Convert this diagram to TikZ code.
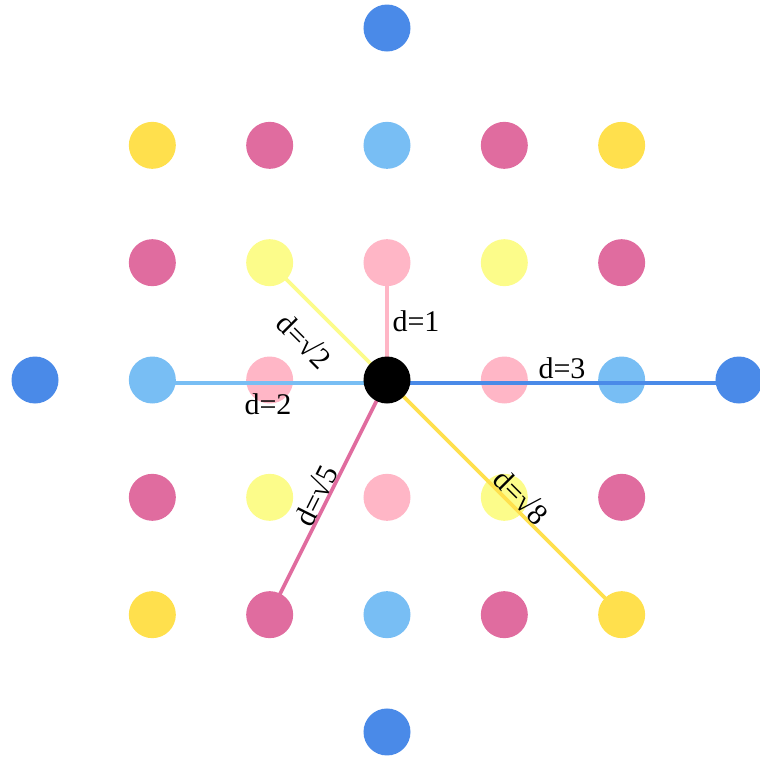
\documentclass[tikz,border=0pt]{standalone}
\usepackage{fontspec}
\setmainfont{Liberation Serif}
\definecolor{cOne}{HTML}{FFB6C6}
\definecolor{cTwo}{HTML}{FCFC8A}
\definecolor{cFour}{HTML}{78BEF4}
\definecolor{cFive}{HTML}{E06C9F}
\definecolor{cEight}{HTML}{FFE04D}
\definecolor{cNine}{HTML}{4A8AE8}
\pgfdeclarelayer{dots}
\pgfdeclarelayer{links}
\pgfsetlayers{dots,links,main}
\begin{document}
\begin{tikzpicture}[x=1pt,y=1pt,
  dot/.style={circle,inner sep=0pt,minimum size=47pt,fill=#1},
  link/.style={line width=3.7pt,draw=#1},
  lbl/.style={font=\fontsize{30}{34}\selectfont,inner sep=1pt}]
\def\s{117.33}
\useasboundingbox (-387,-378) rectangle (373,380);
\begin{pgfonlayer}{dots}
  % lattice points, coloured by squared distance from the origin
  \foreach \i in {-2,...,2} {
    \foreach \j in {-2,...,2} {
      \pgfmathtruncatemacro{\dd}{\i*\i+\j*\j}
      \ifnum\dd>0
        \ifcase\dd\or\def\cc{cOne}\or\def\cc{cTwo}\or\or\def\cc{cFour}\or\def\cc{cFive}\or\or\or\def\cc{cEight}\fi
        \node[dot=\cc] (p\i\j) at (\i*\s,\j*\s) {};
      \fi
    }
  }
  \node[dot=cNine] (p30) at (3*\s,0) {};
  \node[dot=cNine] (pm30) at (-3*\s,0) {};
  \node[dot=cNine] (p03) at (0,3*\s) {};
  \node[dot=cNine] (p0m3) at (0,-3*\s) {};
\end{pgfonlayer}
\node[dot=black] (o) at (0,0) {};
\begin{pgfonlayer}{links}
  \draw[link=cOne] (o.center) -- (p01.center);
  \draw[link=cTwo] (o.center) -- (p-11.center);
  \draw[link=cFour] ([yshift=-3pt]o.center) -- ([yshift=-3pt]p-20.center);
  \draw[link=cNine] ([yshift=-3pt]o.center) -- ([yshift=-3pt]p30.center);
  \draw[link=cFive] (o.center) -- (p-1-2.center);
  \draw[link=cEight] (o.center) -- (p2-2.center);
\end{pgfonlayer}
\node[lbl] (l1) at (29,59) {d=1};
\node[lbl,rotate=-45] (l2) at (-82,40) {d=√2};
\node[lbl] (l4) at (-119,-24) {d=2};
\node[lbl] (l9) at (175,12) {d=3};
\node[lbl,rotate=63.43] (l5) at (-72,-115) {d=√5};
\node[lbl,rotate=-45] (l8) at (135,-116) {d=√8};
\end{tikzpicture}
\end{document}
